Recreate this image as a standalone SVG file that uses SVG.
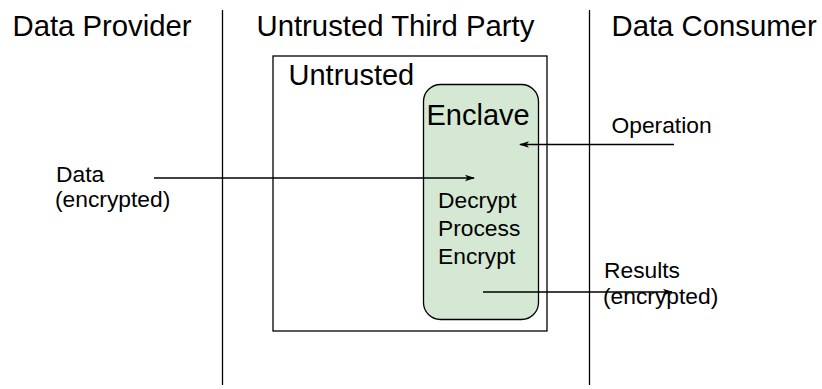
<svg xmlns="http://www.w3.org/2000/svg" width="822" height="389" viewBox="0 0 822 389">
  <style>
    text { font-family: "Liberation Sans", Arial, sans-serif; fill: #000; }
    .h { font-size: 29.3px; }
    .big { font-size: 29px; }
    .lbl { font-size: 22.8px; }
    .sep { stroke: #000; stroke-width: 1.3; }
    .edge { stroke: #000; stroke-width: 1.3; fill: none; marker-end: url(#arrow); }
  </style>
  <defs>
    <marker id="arrow" viewBox="0 0 10 8" refX="9" refY="4" markerWidth="10" markerHeight="8" markerUnits="userSpaceOnUse" orient="auto">
      <path d="M0,0.8 L10,4 L0,7.2 L2.5,4 Z" fill="#000"/>
    </marker>
  </defs>

  <!-- column headings and separators -->
  <g id="columns">
    <text class="h" x="12.5" y="36">Data Provider</text>
    <text class="h" x="256.5" y="36">Untrusted Third Party</text>
    <text class="h" x="611.5" y="36">Data Consumer</text>
    <line class="sep" x1="222.5" y1="10" x2="222.5" y2="385"/>
    <line class="sep" x1="589.5" y1="10" x2="589.5" y2="385"/>
  </g>

  <!-- untrusted host region -->
  <g id="untrusted">
    <rect x="273" y="56" width="274" height="275" fill="#fff" stroke="#000" stroke-width="1.3"/>
    <text class="big" x="288.5" y="85">Untrusted</text>
  </g>

  <!-- enclave -->
  <g id="enclave">
    <rect x="423.5" y="84.5" width="115" height="235" rx="17" ry="17" fill="#d5e8d4" stroke="#000" stroke-width="1.3"/>
    <text class="big" x="426.5" y="125">Enclave</text>
    <text class="lbl" x="438" y="208">Decrypt</text>
    <text class="lbl" x="438" y="236">Process</text>
    <text class="lbl" x="438" y="264">Encrypt</text>
  </g>

  <!-- flow labels -->
  <g id="data-label">
    <text class="lbl" x="56" y="182">Data</text>
    <text class="lbl" x="55" y="207">(encrypted)</text>
  </g>
  <g id="operation-label">
    <text class="lbl" x="611.5" y="133">Operation</text>
  </g>
  <g id="results-label">
    <text class="lbl" x="604" y="278">Results</text>
    <text class="lbl" x="603" y="304">(encrypted)</text>
  </g>

  <!-- connectors -->
  <g id="connectors">
    <line class="edge" x1="154" y1="178" x2="474" y2="178"/>
    <line class="edge" x1="674" y1="144.5" x2="520" y2="144.5"/>
    <line class="edge" x1="483" y1="292" x2="672" y2="292"/>
  </g>
</svg>
